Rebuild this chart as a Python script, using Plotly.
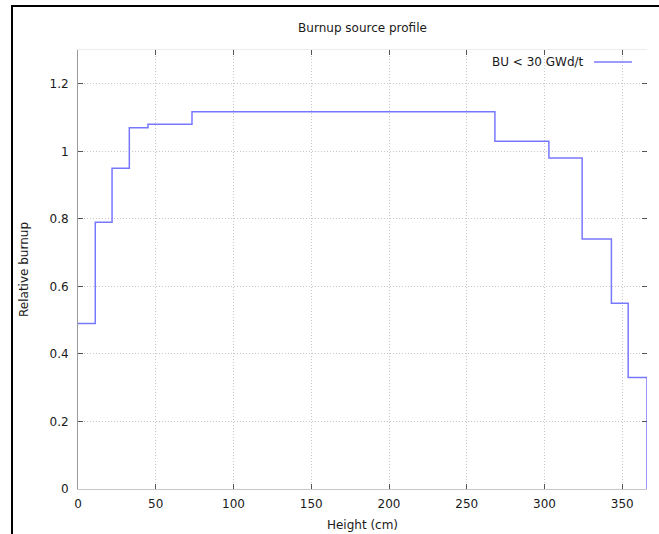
import plotly.graph_objects as go

# Data
height_edges = [0, 11.1, 21.9, 33.0, 45.0, 73.3, 268.1, 302.8, 324.2, 343.0, 353.8, 365.9]
relative_burnup = [0.49, 0.79, 0.95, 1.07, 1.08, 1.117, 1.03, 0.98, 0.74, 0.55, 0.33]
series_name = "BU < 30 GWd/t"
title_text = "Burnup source profile"
x_label = "Height (cm)"
y_label = "Relative burnup"
x_ticks = [0, 50, 100, 150, 200, 250, 300, 350]
y_ticks = [0, 0.2, 0.4, 0.6, 0.8, 1.0, 1.2]

# step points: last level continues to the top edge then drops to 0
xs = list(height_edges)
ys = list(relative_burnup) + [0]

FONT = "DejaVu Sans"
TXT = "#1a1a1a"
W, H = 659, 534
L, R, T, B = 78, 12, 50, 45
PW, PH = W - L - R, H - T - B


def px_x(p):
    return (p - L) / PW


def px_y(p):
    return (H - B - p) / PH


fig = go.Figure()
fig.add_trace(go.Scatter(
    x=xs, y=ys, mode="lines", line_shape="hv",
    line=dict(color="rgb(120,120,255)", width=1.5),
    name=series_name, showlegend=False, hoverinfo="x+y",
))

common_axis = dict(
    ticks="inside", ticklen=5, tickwidth=1, tickcolor="#555",
    griddash="1px,2px", gridcolor="#c8c8c8", gridwidth=1,
    zeroline=False, automargin=False,
    tickfont=dict(family=FONT, size=12, color=TXT),
)

fig.update_layout(
    template="none",
    width=W, height=H, autosize=False,
    margin=dict(l=L, r=R, t=T, b=B, pad=0),
    paper_bgcolor="white", plot_bgcolor="white",
    font=dict(family=FONT, size=12, color=TXT),
    title=dict(text=title_text, x=362.5 / W, xanchor="center",
               y=1 - 28 / H, yanchor="middle",
               font=dict(family=FONT, size=12, color=TXT)),
    xaxis=dict(
        range=[0, height_edges[-1]], tickvals=x_ticks,
        showgrid=True, showline=True, linecolor="#c8c8c8", linewidth=1, mirror=False,
        title=dict(text=x_label, standoff=10, font=dict(family=FONT, size=12, color=TXT)),
        ticklabelstandoff=4,
        **common_axis,
    ),
    yaxis=dict(
        range=[0, 1.3], tickvals=y_ticks,
        showgrid=True, showline=True, linecolor="#999999", linewidth=1, mirror=False,
        title=dict(text=y_label, standoff=18, font=dict(family=FONT, size=12, color=TXT)),
        ticklabelstandoff=6,
        **common_axis,
    ),
    xaxis2=dict(
        overlaying="x", side="top", matches="x", range=[0, height_edges[-1]],
        tickvals=x_ticks, showticklabels=False, showgrid=False,
        showline=True, linecolor="#ececec", linewidth=1, automargin=False,
        ticks="inside", ticklen=5, tickcolor="#555", zeroline=False,
    ),
    yaxis2=dict(
        overlaying="y", side="right", matches="y", range=[0, 1.3],
        tickvals=y_ticks, showticklabels=False, showgrid=False, showline=False,
        automargin=False,
        ticks="inside", ticklen=5, tickcolor="#555", zeroline=False,
    ),
    showlegend=False,
)

# invisible trace to bind the mirror axes
fig.add_trace(go.Scatter(x=[None], y=[None], xaxis="x2", yaxis="y2",
                         showlegend=False, hoverinfo="skip"))

# legend emulation (gnuplot style: text then sample line)
fig.add_annotation(text=series_name, xref="paper", yref="paper",
                   x=px_x(586), y=px_y(62), xanchor="right", yanchor="middle",
                   showarrow=False, font=dict(family=FONT, size=12, color=TXT))
fig.add_shape(type="line", xref="paper", yref="paper",
              x0=px_x(594), x1=px_x(632), y0=px_y(62), y1=px_y(62),
              line=dict(color="rgb(120,120,255)", width=1.5))

# window frame seen in the screenshot (left and top edges)
fig.add_shape(type="line", xref="paper", yref="paper",
              x0=px_x(12), x1=px_x(12), y0=px_y(540), y1=px_y(5),
              line=dict(color="black", width=2))
fig.add_shape(type="line", xref="paper", yref="paper",
              x0=px_x(11), x1=px_x(665), y0=px_y(6), y1=px_y(6),
              line=dict(color="black", width=2))

fig.write_html(
    "out.html",
    config={"displayModeBar": False},
    post_script="document.body.style.margin='0';document.body.style.overflow='hidden';",
)
